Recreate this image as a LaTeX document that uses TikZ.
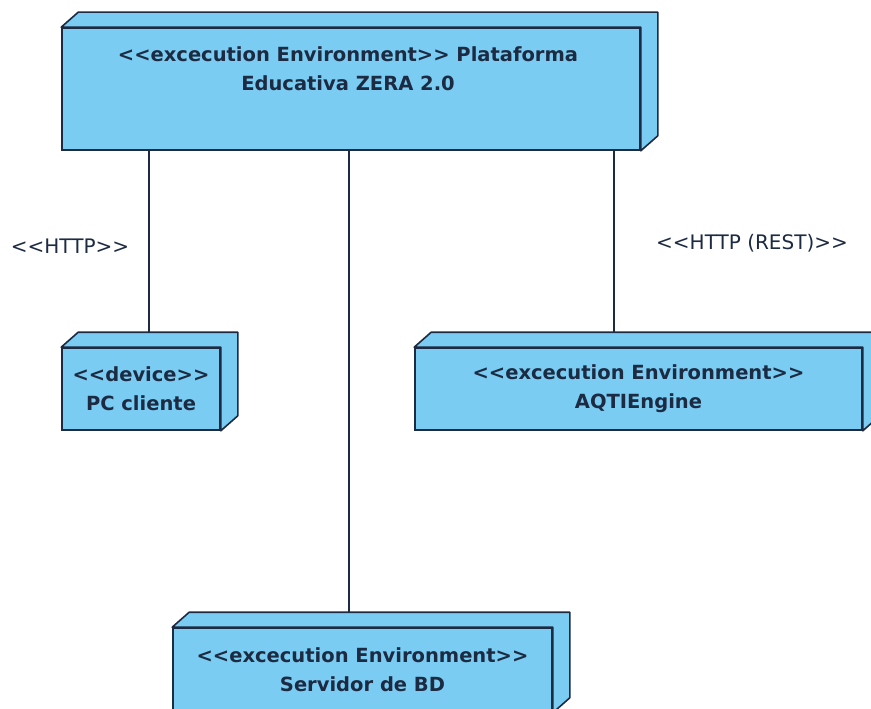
\documentclass[tikz,border=0pt]{standalone}
\usepackage{fontspec}
\setmainfont{DejaVu Sans}[Ligatures=TeXOff]
\usepackage{tikz}
\usetikzlibrary{positioning, calc}
\definecolor{NodeBlue}{RGB}{122,204,242}
\definecolor{Navy}{RGB}{28,42,66}

\tikzset{
  umlbox/.style={draw=Navy, line width=1.6pt, fill=NodeBlue, inner sep=0pt},
  boxtext/.style={text=Navy, align=center, font=\bfseries\fontsize{19.5}{29}\selectfont},
  stereo/.style={text=Navy, font=\fontsize{20}{24}\selectfont},
  link/.style={draw=Navy, line width=1.5pt}
}
% top and side face of a node box
\newcommand{\depthbox}[1]{%
  \draw[umlbox, line join=round] (#1.north west) -- ++(17,-15)
    -- ([shift={(17,-15)}]#1.north east) -- ([shift={(17,-15)}]#1.south east)
    -- (#1.south east) -- (#1.north east) -- cycle;}

\begin{document}
\begin{tikzpicture}[x=1pt, y=-1pt]
  \useasboundingbox (0,0) rectangle (871,709);
  \clip (0,0) rectangle (871,709);
  % boxes
  \node[umlbox, minimum width=578, minimum height=122] (zera) at (351,89) {};
  \depthbox{zera}
  \node[boxtext] (zeratext) at (348,68.5) {<<excecution Environment>> Plataforma\\Educativa ZERA 2.0};
  \node[umlbox, boxtext, minimum width=158, minimum height=82] (pc) at (141,389) {<<device>>\\PC cliente};
  \depthbox{pc}
  \node[umlbox, boxtext, minimum width=447, minimum height=82] (aqti) at (638.5,389) {<<excecution Environment>>\\AQTIEngine};
  \depthbox{aqti}
  \node[umlbox, boxtext, minimum width=379, minimum height=84] (bd) at (362.5,670) {<<excecution Environment>>\\Servidor de BD};
  \depthbox{bd}
  % ends of the links on the back edges
  \coordinate (pctop) at ([shift={(88,-15)}]pc.north west);
  \coordinate (aqtitop) at ([shift={(200,-15)}]aqti.north west);
  \coordinate (bdtop) at ([shift={(177,-15)}]bd.north west);
  \draw[link] (zera.south -| pctop) -- (pctop);
  \draw[link] (zera.south -| bdtop) -- (bdtop);
  \draw[link] (zera.south -| aqtitop) -- (aqtitop);
  % stereotypes
  \node[stereo] (http) at (70,246) {<<HTTP>>};
  \node[stereo] (rest) at (752,243) {<<HTTP (REST)>>};
\end{tikzpicture}
\end{document}
